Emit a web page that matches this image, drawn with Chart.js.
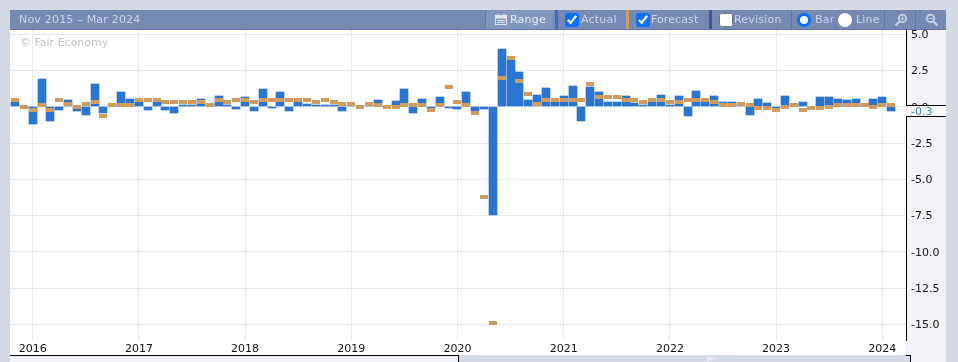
<!DOCTYPE html>
<html>
<head>
<meta charset="utf-8">
<title>Fair Economy chart</title>
<script src="https://cdn.jsdelivr.net/npm/chart.js@4"></script>
<style>
html,body{margin:0;padding:0;width:958px;height:362px;overflow:hidden;background:#d5d9e3;font-family:"DejaVu Sans",sans-serif;}
.abs{position:absolute;}
#plotbg{left:10px;top:30px;width:896px;height:325px;background:#fff;}
#panel{left:906px;top:30px;width:40px;height:325px;background:#f3f4f9;}
#sliderL{left:10px;top:355px;width:449px;height:7px;background:#f3f4f9;border-top:1px solid #000;box-sizing:border-box;border-right:1px solid #000;}
#sliderR{left:910px;top:355px;width:36px;height:7px;background:#f3f4f9;border-left:1px solid #000;box-sizing:border-box;}
#stepT{left:906px;top:355px;width:5px;height:1px;background:#000;}
#tri{left:707px;top:356px;width:0;height:0;border-left:7px solid #e9ecf3;border-top:3px solid transparent;border-bottom:3px solid transparent;}
#header{left:10px;top:10px;width:936px;height:20px;background:#7589b3;border-bottom:1px solid #5f75a8;box-sizing:border-box;}
#chart{left:0;top:0;z-index:2;}
.t{position:absolute;top:13px;font-size:11px;line-height:14px;color:#ccd5e7;white-space:nowrap;z-index:3;letter-spacing:0.2px;}
.sep{position:absolute;top:10px;width:1px;height:19px;background:#5f75a8;z-index:3;}
.strip{position:absolute;top:10px;width:3px;height:19px;z-index:3;}
input.cb{position:absolute;top:13px;width:14px;height:14px;margin:0;z-index:3;accent-color:#0b6ffb;}
.radio{position:absolute;top:13px;width:14px;height:14px;border-radius:50%;background:#fff;box-sizing:border-box;z-index:3;}
#rangeBg{left:485px;top:10px;width:68px;height:19px;background:#8297bf;z-index:2;}
#copy{left:20px;top:36px;font-size:11px;line-height:14px;color:#c2c2c2;z-index:3;}
#band{left:906px;top:105px;width:40px;height:12px;background:#fbfbfd;border-top:1px solid #000;border-bottom:1px solid #000;box-sizing:border-box;color:#3f83d6;font-size:11px;line-height:11px;padding-left:5px;z-index:4;}
svg.ic{position:absolute;z-index:3;}
</style>
</head>
<body>
<div class="abs" id="plotbg"></div>
<div class="abs" id="panel"></div>
<div class="abs" id="sliderL"></div>
<div class="abs" id="sliderR"></div>
<div class="abs" id="stepT"></div>
<div class="abs" id="tri"></div>
<div class="abs" id="header"></div>
<div class="abs" id="rangeBg"></div>

<div class="t" style="left:19px;">Nov 2015 – Mar 2024</div>
<div class="sep" style="left:485px;"></div>
<svg class="ic" style="left:495px;top:13px" width="12" height="13" viewBox="0 0 12 13"><rect x="0.5" y="2.5" width="11" height="9" fill="none" stroke="#e2e7f2"/><rect x="0.5" y="2.5" width="11" height="3" fill="#e2e7f2"/><rect x="2.5" y="0.5" width="1" height="3" fill="#e2e7f2"/><rect x="8.5" y="0.5" width="1" height="3" fill="#e2e7f2"/><rect x="2" y="7" width="8" height="1" fill="#e2e7f2"/><rect x="2" y="9" width="8" height="1" fill="#e2e7f2"/></svg>
<div class="t" style="left:510px;color:#e6ebf5;">Range</div>
<div class="strip" style="left:555px;background:#2a75cf;"></div>
<input class="cb" type="checkbox" checked style="left:565px;">
<div class="t" style="left:581px;">Actual</div>
<div class="strip" style="left:626px;background:#d39b5b;"></div>
<input class="cb" type="checkbox" checked style="left:636px;">
<div class="t" style="left:651px;letter-spacing:0.1px;">Forecast</div>
<div class="strip" style="left:709px;background:#3a5a9c;"></div>
<input class="cb" type="checkbox" style="left:719px;">
<div class="t" style="left:734px;">Revision</div>
<div class="sep" style="left:791px;"></div>
<div class="radio" style="left:797px;border:3px solid #0b6ffb;"></div>
<div class="t" style="left:815px;">Bar</div>
<div class="radio" style="left:838px;"></div>
<div class="t" style="left:856px;">Line</div>
<div class="sep" style="left:884px;"></div>
<svg class="ic" style="left:894px;top:13px" width="14" height="14" viewBox="0 0 14 14"><circle cx="8.5" cy="5.5" r="3.7" fill="none" stroke="#c3cde2" stroke-width="2"/><line x1="5.5" y1="8.5" x2="1.5" y2="12.5" stroke="#c3cde2" stroke-width="2.4"/><line x1="6.5" y1="5.5" x2="10.5" y2="5.5" stroke="#c3cde2"/><line x1="8.5" y1="3.5" x2="8.5" y2="7.5" stroke="#c3cde2"/></svg>
<div class="sep" style="left:915px;"></div>
<svg class="ic" style="left:925px;top:13px" width="14" height="14" viewBox="0 0 14 14"><circle cx="5.5" cy="5.5" r="3.7" fill="none" stroke="#c3cde2" stroke-width="2"/><line x1="8.5" y1="8.5" x2="12.5" y2="12.5" stroke="#c3cde2" stroke-width="2.4"/><line x1="3.5" y1="5.5" x2="7.5" y2="5.5" stroke="#c3cde2"/></svg>

<div class="abs" id="copy">© Fair Economy</div>
<div class="abs" id="band">-0.3</div>
<canvas class="abs" id="chart" width="958" height="362"></canvas>

<script>
// Monthly observations, Nov 2015 onward (index 0 = Nov 2015)
const actual = [
  0.35, 0, -1.2, 1.9, -1.0, -0.2, 0.44, -0.3, -0.55, 1.55,
  -0.4, 0.1, 1.05, 0.55, 0.3, -0.2, 0.3, -0.2, -0.4, 0.15,
  0.15, 0.55, 0.1, 0.78, 0.15, -0.15, 0.65, -0.3, 1.25, -0.05,
  1.0, -0.3, 0.3, 0.2, 0.15, 0.15, 0.15, -0.3, 0.1, 0,
  0.1, 0.44, 0, 0.37, 1.25, -0.4, 0.55, -0.15, 0.65, -0.05,
  -0.15, 1.0, -0.3, -0.15, -7.45, 4.0, 3.3, 2.4, 0.44, 0.85,
  1.3, 0.3, 0.78, 1.45, -0.95, 1.35, 1.05, 0.35, 0.35, 0.78,
  0.25, 0.15, 0.3, 0.85, 0.15, 0.78, -0.6, 1.12, 0.3, 0.78,
  0.35, 0.35, 0.1, -0.55, 0.55, 0.25, -0.1, 0.78, 0.1, 0.35,
  0, 0.65, 0.65, 0.55, 0.44, 0.55, 0.1, 0.55, 0.65, -0.3
];
const forecast = [
  0.44, 0, -0.2, 0.1, -0.25, 0.5, 0.23, 0, 0.23, 0.3,
  -0.6, 0.1, 0.1, 0.1, 0.44, 0.44, 0.44, 0.3, 0.3, 0.3,
  0.3, 0.3, 0.1, 0.44, 0.3, 0.44, 0.44, 0.3, 0.44, 0.44,
  0.44, 0.44, 0.44, 0.44, 0.3, 0.44, 0.3, 0.23, 0.23, 0,
  0.23, 0.1, 0, 0, 0.1, 0.1, 0.1, -0.25, 0.1, 1.4,
  0.3, 0.1, -0.45, -6.2, -14.9, 2.0, 3.4, 1.8, 0.9, 0.23,
  0.44, 0.44, 0.44, 0.5, 0.5, 1.55, 0.7, 0.7, 0.7, 0.44,
  0.44, 0.3, 0.44, 0.5, 0.3, 0.3, 0.44, 0.44, 0.44, 0.3,
  0.1, 0.1, 0.23, 0.1, -0.1, -0.1, -0.25, 0, 0.1, -0.25,
  -0.1, -0.1, 0, 0.1, 0.1, 0.1, 0.1, 0, 0.1, 0.1
];
const yearLabels = ["2016","2017","2018","2019","2020","2021","2022","2023","2024"];
const januaryIndex = [2,14,26,38,50,62,74,86,98];
const yTicks = [5,2.5,0,-2.5,-5,-7.5,-10,-12.5,-15];

const colBlue = "#2a75cf", colOrange = "#d39b5b", colGrid = "#e8eaf2";

// forecast marker: flat dash
const marker = document.createElement("canvas");
marker.width = 8; marker.height = 4;
const mctx = marker.getContext("2d");
mctx.fillStyle = colOrange; mctx.fillRect(0,0,8,4);

// keep library-computed marks on whole pixels so their edges stay crisp
const snapToPixels = {
  id: "snapToPixels",
  afterDatasetsUpdate(chart) {
    chart.getSortedVisibleDatasetMetas().forEach(meta => {
      meta.data.forEach(el => {
        el.x = Math.round(el.x);
        el.y = Math.round(el.y);
        if (el.base !== undefined) el.base = Math.round(el.base);
      });
    });
  }
};

new Chart(document.getElementById("chart"), {
  plugins: [snapToPixels],
  data: {
    datasets: [
      { type:"line", label:"Forecast", order:0, showLine:false,
        data: forecast.map((v,i)=>({x:i,y:v})),
        pointStyle: marker, pointRadius:4, pointHoverRadius:4 },
      { type:"bar", label:"Actual", order:1, backgroundColor:colBlue,
        barThickness:8, borderWidth:0,
        data: actual.map((v,i)=>({x:i,y:v})) }
    ]
  },
  options: {
    responsive:false, animation:false, events:[],
    layout:{padding:{left:10,top:30,right:12,bottom:0}},
    plugins:{legend:{display:false},tooltip:{enabled:false}},
    scales:{
      x:{ type:"linear", offset:false, min:-0.565, max:100.68,
        afterBuildTicks:s=>{s.ticks=januaryIndex.map(v=>({value:v}));},
        afterFit:s=>{s.height=22;},
        grid:{offset:false,color:colGrid,lineWidth:1,drawTicks:false},
        border:{display:false},
        ticks:{ autoSkip:false, maxRotation:0, minRotation:0, padding:3, color:"#111",
          font:{family:"DejaVu Sans",size:11},
          callback:v=>yearLabels[januaryIndex.indexOf(v)] }
      },
      y:{ type:"linear", position:"right", min:-16.08, max:5.3,
        afterBuildTicks:s=>{s.ticks=yTicks.map(v=>({value:v}));},
        afterFit:s=>{s.width=40;},
        grid:{color:colGrid,lineWidth:1,drawTicks:false},
        border:{display:true,color:"#000",width:1},
        ticks:{ autoSkip:false, padding:5, labelOffset:1, color:"#111", align:"center", crossAlign:"near",
          font:{family:"DejaVu Sans",size:11},
          callback:v=>v.toFixed(1) }
      }
    }
  }
});
</script>
</body>
</html>
